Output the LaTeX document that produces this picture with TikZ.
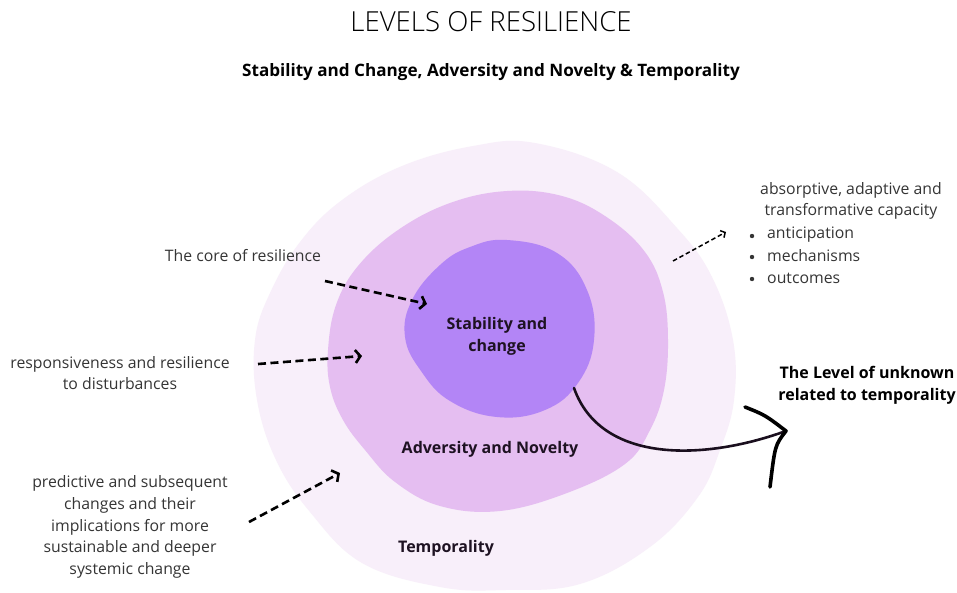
\documentclass[tikz,border=0pt]{standalone}
\usepackage{fontspec}
\setmainfont{Open Sans}
\newfontfamily\lightfont{Open Sans}[UprightFont={* Light}]
\usetikzlibrary{arrows.meta}

\definecolor{outerfill}{HTML}{F8EFFA}
\definecolor{middlefill}{HTML}{E5BEF1}
\definecolor{innerfill}{HTML}{B385F6}
\definecolor{bodytext}{HTML}{353535}
\definecolor{labeltext}{HTML}{1E1222}
\definecolor{curveink}{HTML}{1A0F1E}

\tikzset{
  note/.style={inner sep=0pt, text=bodytext, align=center,
    font=\fontsize{15.8}{21.7}\selectfont},
  label/.style={inner sep=0pt, text=labeltext, align=center,
    font=\fontsize{16}{21.7}\selectfont\bfseries},
  bigarrow/.style={line width=2.6pt, dash pattern=on 8pt off 4.5pt,
    -{Straight Barb[length=5pt,width=13pt]}},
  thinarrow/.style={line width=1.5pt, dash pattern=on 4.5pt off 2.8pt,
    -{Straight Barb[length=3.5pt,width=8pt]}},
}

\begin{document}
\begin{tikzpicture}[x=1pt,y=-1pt]
\useasboundingbox (0,0) rectangle (957,592);
\fill[white] (0,0) rectangle (957,592);

% three nested levels
\fill[outerfill] plot[smooth cycle, tension=0.65] coordinates {
  (473,146) (535,143) (617,172) (677,228) (712,277) (733,340) (734,400)
  (720,450) (698,497) (650,547) (580,584) (505,590) (440,587) (362,563)
  (310,512) (276,460) (257,400) (255,340) (270,293) (300,242) (342,200) (402,166)};
\fill[middlefill] plot[smooth cycle, tension=0.65] coordinates {
  (507,191) (562,196) (608,218) (645,252) (663,292) (668,340) (664,390)
  (650,430) (625,464) (567,493) (500,511) (440,506) (395,482) (365,450)
  (343,420) (330,387) (328,350) (336,305) (358,266) (398,230) (450,203)};
\fill[innerfill] plot[smooth cycle, tension=0.7] coordinates {
  (507,240) (557,253) (587,290) (594,340) (578,383) (545,410) (497,417)
  (450,401) (421,371) (405,337) (412,300) (440,265) (470,247)};

% headings
\node[inner sep=0pt, font=\lightfont\fontsize{27.6}{30}\selectfont, text=black]
  (title) at (491,22) {LEVELS OF RESILIENCE};
\node[inner sep=0pt, font=\fontsize{17.1}{20}\selectfont\bfseries, text=black]
  (subtitle) at (491,72) {Stability and Change, Adversity and Novelty \& Temporality};

% level names
\node[label] (core) at (497,336) {Stability and\\change};
\node[label] (adversity) at (490,449) {Adversity and Novelty};
\node[label] (temporality) at (446,548) {Temporality};

% explanatory notes
\node[note] (coreNote) at (243,256) {The core of resilience};
\node[note] (respNote) at (120,373) {responsiveness and resilience\\to disturbances};
\node[note] (predNote) at (130,527) {predictive and subsequent\\changes and their\\implications for more\\sustainable and deeper\\systemic change};
\node[note] (capNote) at (851,201) {absorptive, adaptive and\\transformative capacity};
\node[note, anchor=west] (item1) at (767,235) {anticipation};
\node[note, anchor=west] (item2) at (767,256) {mechanisms};
\node[note, anchor=west] (item3) at (767,278) {outcomes};
\foreach \y/\n in {236/b1,257/b2,279/b3}
  \fill[bodytext] (752,\y) circle (2.2pt) coordinate (\n);
\node[label, text=black] (unknown) at (867,385) {The Level of unknown\\related to temporality};

% pointers into the levels
\coordinate (coreFrom) at (325,281);
\coordinate (coreTo) at (427,304);
\coordinate (respFrom) at (258,364);
\coordinate (respTo) at (362,356);
\coordinate (predFrom) at (249,522);
\coordinate (predTo) at (340,473);
\coordinate (capFrom) at (673,261);
\coordinate (capTo) at (726,232);
\draw[bigarrow] (coreFrom) -- (coreTo);
\draw[bigarrow] (respFrom) -- (respTo);
\draw[bigarrow] (predFrom) -- (predTo);
\draw[thinarrow] (capFrom) -- (capTo);

% the sweep out towards the unknown
\coordinate (sweepStart) at (574,388);
\coordinate (sweepTip) at (786,431);
\coordinate (barbTop) at (745,407);
\coordinate (barbBottom) at (770,487);
\draw[curveink, line width=2.6pt, line cap=round]
  (sweepStart) .. controls (600,462) and (700,462) .. (sweepTip);
\draw[black, line width=3.6pt, line cap=round, line join=round]
  (barbTop) .. controls (765,415) .. (sweepTip) .. controls (775,445) .. (barbBottom);
\end{tikzpicture}
\end{document}
